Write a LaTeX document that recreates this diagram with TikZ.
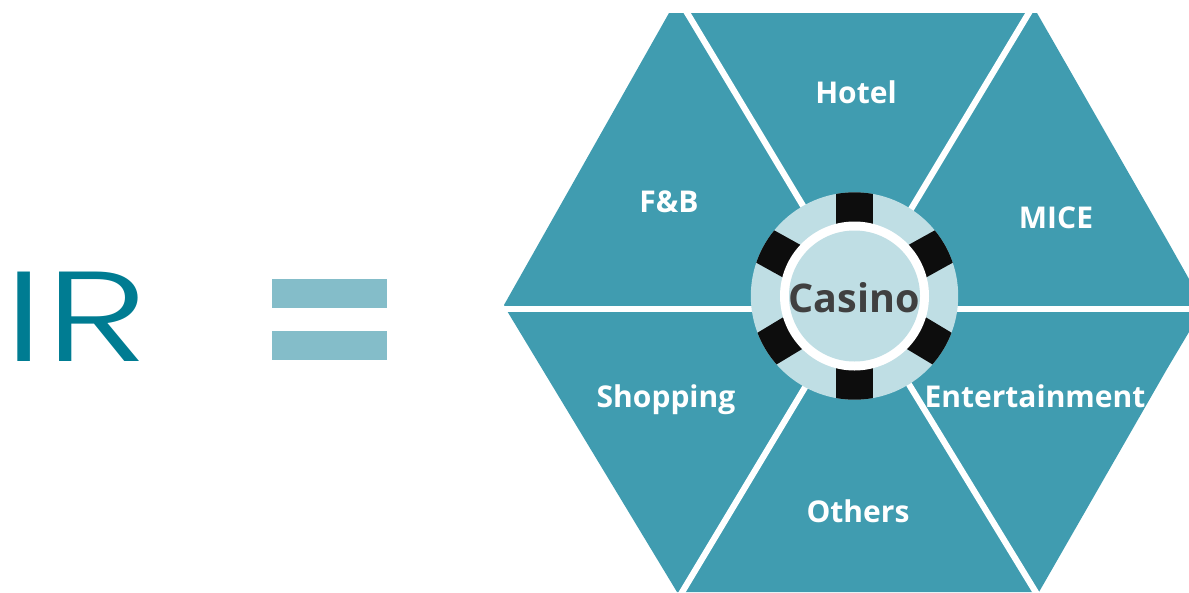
\documentclass[tikz,border=0pt]{standalone}
\usepackage{fontspec}
\setmainfont{Open Sans}
\newfontfamily\irfont{Poppins Light}
\definecolor{teal1}{HTML}{409CB0}
\definecolor{chiplight}{HTML}{BFDEE4}
\definecolor{chipblack}{HTML}{0D0D0D}
\definecolor{irteal}{HTML}{007C92}
\definecolor{eqteal}{HTML}{84BDC9}
\definecolor{casinogrey}{HTML}{404040}
\tikzset{
  seglabel/.style={text=white,font=\fontsize{30}{30}\selectfont\bfseries,inner sep=0pt,anchor=base},
  stripe/.style={draw=white,line width=6.2pt},
  iglyph/.style={text=irteal,font=\irfont\fontsize{128}{128}\selectfont,inner sep=0pt,anchor=base west}
}
\begin{document}
\begin{tikzpicture}[x=1pt,y=-1pt]
\useasboundingbox (0,0) rectangle (1189,592);
% IR =
\node[iglyph] (i) at (3,361) {\scalebox{1.4}[1]{I}};
\node[iglyph] (r) at (45.5,361) {\scalebox{1.37}[1]{R}};
\fill[eqteal] (272,279) rectangle (387,308);
\fill[eqteal] (272,331) rectangle (387,360);
% hexagon
\fill[teal1] (669,13) -- (1037,13) -- (1167,240) -- (1189,279) -- (1189,332) -- (1167,369)
  -- (1039,592) -- (677,592) -- (508,312.5) -- (506,309) -- (504,305) -- cycle;
\draw[stripe] (495,309) -- (1195,309);
\draw[stripe] (680,1) -- (865,309);
\draw[stripe] (1036,1) -- (851,309);
\draw[stripe] (675,604) -- (852,309);
\draw[stripe] (1043,604) -- (863,309);
% chip
\coordinate (c) at (854.5,296);
\fill[chiplight] (c) circle[radius=103.7pt];
\begin{scope}
\clip (c) circle[radius=103.7pt];
\foreach \a in {90,-90,29,151,-31,211}{
  \fill[chipblack,shift={(c)},rotate=\a] (60pt,-18.5pt) rectangle (110pt,18.5pt);
}
\end{scope}
\fill[white] (c) circle[radius=74.5pt];
\fill[chiplight] (c) circle[radius=65.5pt];
% labels
\node[seglabel] (hotel) at (856,103) {Hotel};
\node[seglabel] (fb) at (669,212) {F\&B};
\node[seglabel] (mice) at (1056,228) {MICE};
\node[seglabel] (shop) at (666,407) {Shopping};
\node[seglabel] (ent) at (1035,407) {Entertainment};
\node[seglabel] (oth) at (858,522) {Others};
\node[text=casinogrey,font=\fontsize{39.5}{40}\selectfont\bfseries,inner sep=0pt,anchor=base] (cas) at (854,312) {Casino};
\end{tikzpicture}
\end{document}
